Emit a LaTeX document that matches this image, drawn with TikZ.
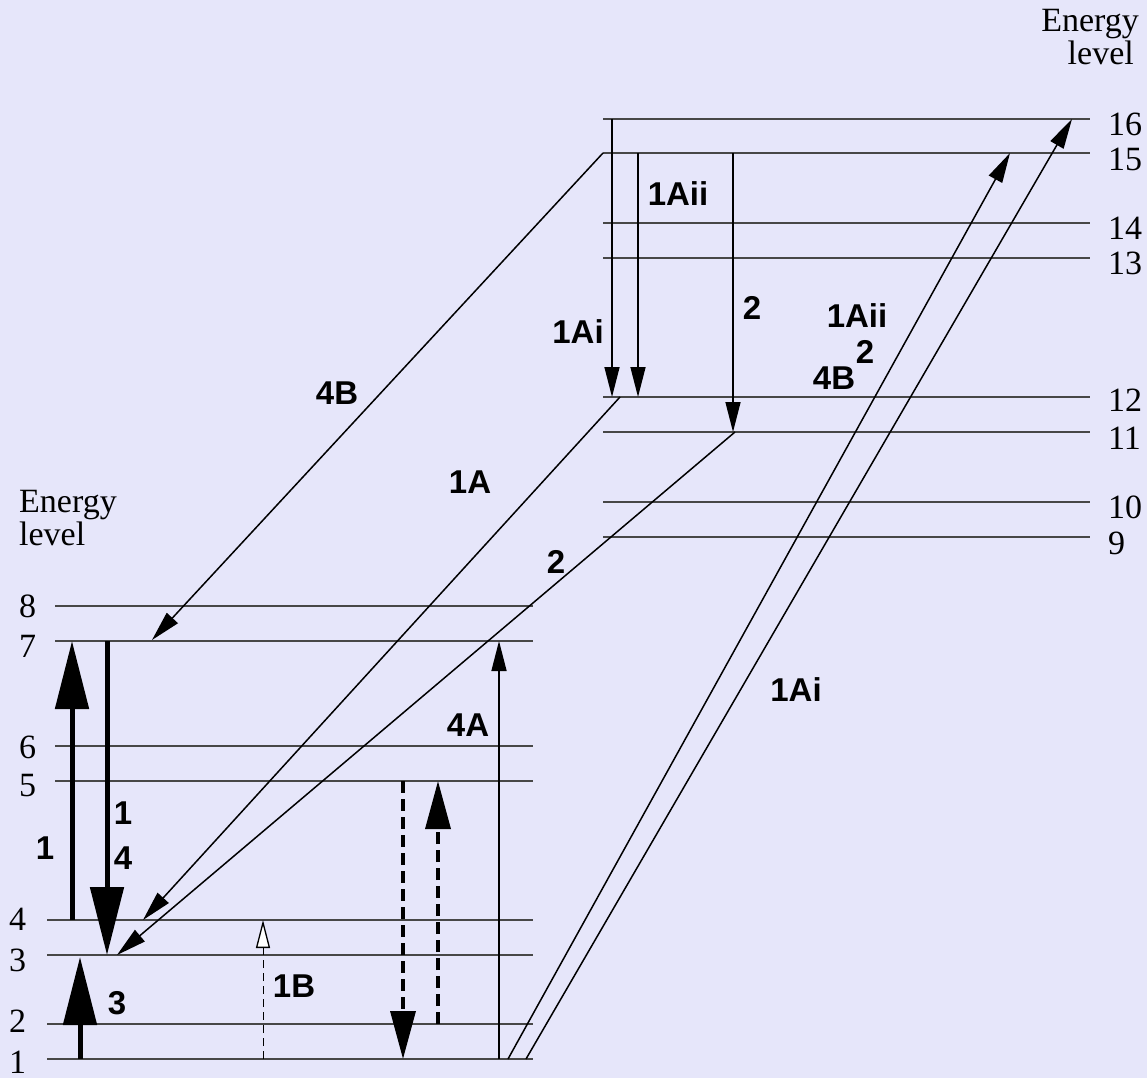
\documentclass[tikz,border=0pt]{standalone}
\usepackage{fontspec}
\setmainfont{Liberation Serif}
\newfontfamily\labfont{Liberation Sans}
\usetikzlibrary{arrows.meta}
\definecolor{bgcol}{RGB}{230,230,250}
\begin{document}
\begin{tikzpicture}[x=1pt,y=-1pt,
  levelline/.style={line width=1.3pt, draw=black!72},
  num/.style={font=\fontsize{34}{36}\selectfont, inner sep=0pt, anchor=west},
  etxt/.style={font=\fontsize{34}{36}\selectfont, inner sep=0pt},
  lab/.style={font=\labfont\bfseries\fontsize{33}{35}\selectfont, inner sep=0pt},
  thinarrow/.style={line width=1.5pt, -{Triangle[length=30pt,width=15pt]}},
  thickarrow/.style={line width=5pt, -{Triangle[length=68pt,width=33pt]}},
  dasharrow/.style={line width=3.5pt, dash pattern=on 12pt off 6pt, -{Triangle[length=48pt,width=25pt]}},
  openarrow/.style={line width=1pt, dash pattern=on 8pt off 5pt, -{Triangle[open,fill=white,length=28pt,width=14pt,line width=1.3pt]}}
]
\fill[bgcol] (0,0) rectangle (1147,1078);
\useasboundingbox (0,0) rectangle (1147,1078);

% lower level lines
\foreach \n/\y/\x in {1/1059/47, 2/1024/47, 3/955/47, 4/920/47, 5/781/55, 6/746/55, 7/641/55, 8/606/55}{
  \coordinate (L\n w) at (\x,\y);
  \coordinate (L\n e) at (533,\y);
  \draw[levelline] (L\n w) -- (L\n e);
}
% upper level lines
\foreach \n/\y in {9/537, 10/502, 11/432, 12/397, 13/258, 14/223, 15/153, 16/119}{
  \coordinate (L\n w) at (603,\y);
  \coordinate (L\n e) at (1090,\y);
  \draw[levelline] (L\n w) -- (L\n e);
}

% level numbers
\foreach \n/\x/\y in {1/9/1062, 2/9/1021, 3/9/960, 4/9/919, 5/19/786, 6/19/747, 7/19/646, 8/19/606}{
  \node[num] (N\n) at (\x,\y) {\n};
}
\foreach \n/\y in {9/543, 10/507, 11/438, 12/400, 13/263, 14/228, 15/159, 16/124}{
  \node[num] (N\n) at (1108,\y) {\n};
}

% axis titles
\node[etxt, anchor=base west] (E1) at (19,512) {Energy};
\node[etxt, anchor=base west] (E2) at (19,545) {level};
\node[etxt, anchor=base east] (E3) at (1139,32) {Energy};
\node[etxt, anchor=base east] (E4) at (1134,65) {level};

% endpoint coordinates
\coordinate (a1s) at (72,920);   \coordinate (a1e) at (72,641);
\coordinate (a14s) at (107,641); \coordinate (a14e) at (107,955);
\coordinate (a3s) at (80,1059);  \coordinate (a3e) at (80,957);
\coordinate (bBs) at (263,1059); \coordinate (bBe) at (263,920);
\coordinate (dds) at (403,781);  \coordinate (dde) at (403,1059);
\coordinate (dus) at (438,1024); \coordinate (due) at (438,781);
\coordinate (a4As) at (499,1059); \coordinate (a4Ae) at (499,641);
\coordinate (g1s) at (508,1059); \coordinate (g1e) at (1010,153);
\coordinate (g2s) at (526,1059); \coordinate (g2e) at (1072,119);
\coordinate (u1s) at (612,119);  \coordinate (u1e) at (612,397);
\coordinate (u2s) at (638,153);  \coordinate (u2e) at (638,397);
\coordinate (u3s) at (733,153);  \coordinate (u3e) at (733,432);
\coordinate (d4Bs) at (603,153); \coordinate (d4Be) at (152,640);
\coordinate (d1As) at (620,397); \coordinate (d1Ae) at (143,920);
\coordinate (d2s) at (735,432);  \coordinate (d2e) at (117,955);

% arrows
\draw[thickarrow] (a1s) -- (a1e);
\draw[thickarrow] (a14s) -- (a14e);
\draw[thickarrow] (a3s) -- (a3e);
\draw[openarrow] (bBs) -- (bBe);
\draw[dasharrow] (dds) -- (dde);
\draw[dasharrow] (dus) -- (due);
\draw[thinarrow] (a4As) -- (a4Ae);
\draw[thinarrow] (g1s) -- (g1e);
\draw[thinarrow] (g2s) -- (g2e);
\draw[thinarrow] (u1s) -- (u1e);
\draw[thinarrow] (u2s) -- (u2e);
\draw[thinarrow] (u3s) -- (u3e);
\draw[thinarrow] (d4Bs) -- (d4Be);
\draw[thinarrow] (d1As) -- (d1Ae);
\draw[thinarrow] (d2s) -- (d2e);

% labels
\node[lab] (t1) at (45,848) {1};
\node[lab] (t14a) at (123,813) {1};
\node[lab] (t14b) at (123,858) {4};
\node[lab] (t3) at (117,1003) {3};
\node[lab] (t1B) at (294,986) {1B};
\node[lab] (t4A) at (468,725) {4A};
\node[lab] (t4B) at (337,393) {4B};
\node[lab] (t1A) at (470,482) {1A};
\node[lab] (t2a) at (556,562) {2};
\node[lab] (t1Ai) at (796,690) {1Ai};
\node[lab] (t1Aiu) at (578,332) {1Ai};
\node[lab] (t1Aiiu) at (678,194) {1Aii};
\node[lab] (t2u) at (752,308) {2};
\node[lab] (t1Aiir) at (857,316) {1Aii};
\node[lab] (t2r) at (865,352) {2};
\node[lab] (t4Br) at (834,378) {4B};
\end{tikzpicture}
\end{document}
